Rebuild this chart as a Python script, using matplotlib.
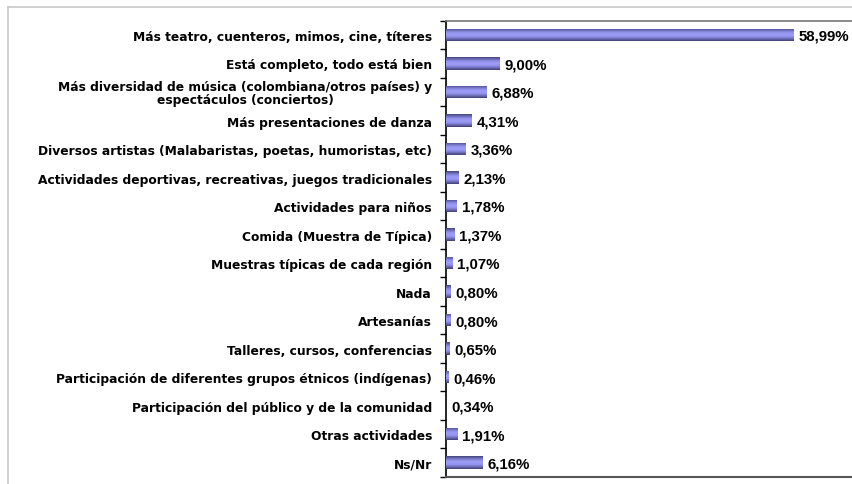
import matplotlib
matplotlib.use("Agg")
import matplotlib.pyplot as plt
import numpy as np
from matplotlib.colors import LinearSegmentedColormap
from matplotlib.lines import Line2D

categories = [
    "Más teatro, cuenteros, mimos, cine, títeres",
    "Está completo, todo está bien",
    "Más diversidad de música (colombiana/otros países) y\nespectáculos (conciertos)",
    "Más presentaciones de danza",
    "Diversos artistas (Malabaristas, poetas, humoristas, etc)",
    "Actividades deportivas, recreativas, juegos tradicionales",
    "Actividades para niños",
    "Comida (Muestra de Típica)",
    "Muestras típicas de cada región",
    "Nada",
    "Artesanías",
    "Talleres, cursos, conferencias",
    "Participación de diferentes grupos étnicos (indígenas)",
    "Participación del público y de la comunidad",
    "Otras actividades",
    "Ns/Nr",
]
values = [58.99, 9.00, 6.88, 4.31, 3.36, 2.13, 1.78, 1.37, 1.07, 0.80, 0.80, 0.65, 0.46, 0.00, 1.91, 6.16]
value_labels = ["58,99%", "9,00%", "6,88%", "4,31%", "3,36%", "2,13%", "1,78%", "1,37%",
                "1,07%", "0,80%", "0,80%", "0,65%", "0,46%", "0,34%", "1,91%", "6,16%"]

W, H = 853, 485
fig = plt.figure(figsize=(W / 100, H / 100), dpi=100)
fig.patch.set_facecolor("white")

# outer light frame
fig.add_artist(Line2D([8 / W, 8 / W], [0, 1 - 8 / H], color="#c8c8c8", lw=1.2, transform=fig.transFigure))
fig.add_artist(Line2D([8 / W, 1], [1 - 8 / H, 1 - 8 / H], color="#c8c8c8", lw=1.2, transform=fig.transFigure))

left = 446 / W
top = 1 - 21.7 / H
bottom = 1 - 478 / H
ax = fig.add_axes([left, bottom, 1.0 - left, top - bottom])

n = len(categories)
y = np.arange(n)
bar_h = 0.44
cmap = LinearSegmentedColormap.from_list(
    "g", ["#464678", "#6c6cbc", "#9292ea", "#9e9efa", "#9292ec", "#6a6ab6", "#404072"])
grad = np.linspace(0, 1, 64).reshape(-1, 1)

bars = ax.barh(y, values, height=bar_h, color="#8888e0", edgecolor="none", zorder=2)
for b in bars:
    x0, y0 = b.get_x(), b.get_y()
    w, h = b.get_width(), b.get_height()
    if w <= 0:
        continue
    im = ax.imshow(grad, cmap=cmap, aspect="auto", extent=(x0, x0 + w, y0 + h, y0),
                   zorder=3, interpolation="bilinear")
    im.set_clip_path(b)

for yi, v, lab in zip(y, values, value_labels):
    ax.text(v + 0.85, yi + 0.03, lab, va="center", ha="left", fontsize=10.8, fontweight="bold",
            family="Liberation Sans", color="black", zorder=4)

ax.set_ylim(n - 0.5, -0.5)
ax.set_xlim(0, 69.0)
ax.set_yticks(y)
ax.set_yticklabels(categories, fontsize=8.8, fontweight="bold", family="DejaVu Sans",
                   multialignment="center", linespacing=1.0)
ax.tick_params(axis="y", which="major", length=0, pad=10)
ax.set_yticks(np.arange(n + 1) - 0.5, minor=True)
ax.tick_params(axis="y", which="minor", length=4, width=1, color="black")
ax.set_xticks([])
ax.spines["left"].set_color("black")
ax.spines["left"].set_linewidth(1.2)
ax.spines["bottom"].set_color("#555555")
ax.spines["bottom"].set_linewidth(1.5)
ax.spines["top"].set_color("#777777")
ax.spines["top"].set_linewidth(1.2)
ax.spines["right"].set_visible(False)
ax.set_facecolor("white")

fig.savefig("out.png", dpi=100, facecolor="white")
